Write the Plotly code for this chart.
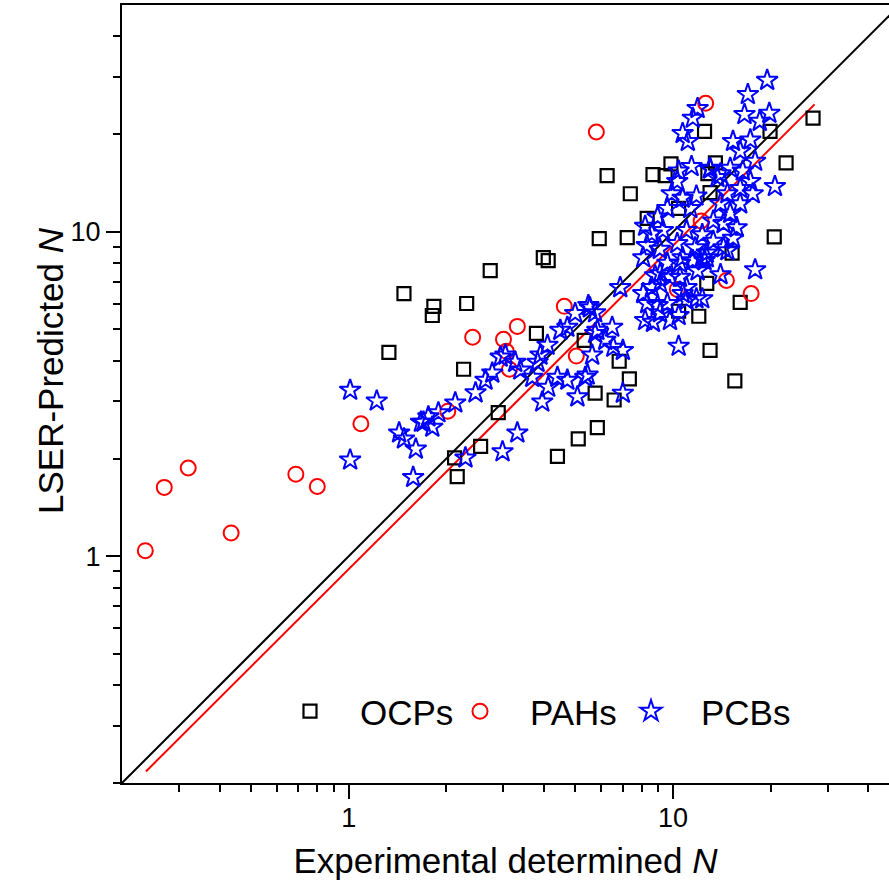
import plotly.graph_objects as go
import math

# OCPs (black squares)
ocp_x = [1.48, 1.33, 1.83, 1.81, 2.31, 2.73, 3.98, 4.12, 5.92, 3.79, 5.32, 2.26, 2.89, 5.75, 5.84,
         5.10, 4.40, 2.55, 2.12, 2.16, 6.82, 7.33, 6.58, 12.7, 12.0, 10.4, 13.0, 15.2, 16.1, 15.5,
         27.0, 22.3, 20.5, 12.5, 19.9, 13.5, 12.8, 13.0, 6.26, 7.38, 8.67, 9.45, 9.85, 7.22, 8.32, 10.4]
ocp_y = [6.45, 4.25, 5.89, 5.52, 6.01, 7.59, 8.32, 8.15, 9.52, 4.86, 4.63, 3.77, 2.77, 3.18, 2.49,
         2.30, 2.03, 2.18, 2.01, 1.76, 3.99, 3.52, 3.03, 6.93, 5.49, 5.69, 4.31, 8.60, 6.06, 3.47,
         22.4, 16.3, 9.65, 20.4, 20.4, 16.3, 15.1, 13.2, 14.9, 13.1, 15.0, 14.9, 16.2, 9.59, 11.0, 11.8]

# PAHs (red circles)
pah_x = [0.236, 0.27, 0.32, 0.434, 0.687, 0.80, 1.09, 2.02, 2.41, 3.00, 3.06, 3.31, 3.13, 4.62,
         5.03, 5.80, 12.6, 12.2, 10.3, 14.6, 17.4]
pah_y = [1.04, 1.63, 1.87, 1.18, 1.79, 1.64, 2.56, 2.80, 4.73, 4.66, 4.28, 5.11, 3.77, 5.89,
         4.14, 20.3, 24.9, 10.8, 6.64, 7.08, 6.45]

# PCBs (blue stars)
pcb_x = [1.01, 1.22, 1.01, 1.43, 1.48, 1.61, 1.58, 1.67,
         1.76, 1.70, 1.81, 1.89, 2.13, 2.46, 2.64, 2.77, 2.94, 3.04, 3.26, 3.38, 3.68, 3.90, 4.10,
         3.82, 4.12, 3.95, 4.40, 4.72, 5.07, 5.36, 5.63, 4.49, 4.72, 4.99, 5.48, 5.75, 5.84, 3.31,
         2.98, 2.29,
         6.87, 8.09, 5.54, 6.49, 5.75, 6.18, 6.54, 7.00, 5.45, 7.00, 8.20, 8.67, 9.78, 10.4, 10.4,
         9.12, 8.96, 9.60, 8.32, 8.09, 8.60, 9.12, 9.78, 10.7, 11.0, 11.8, 11.0, 9.12, 10.5, 11.5,
         12.3, 10.5, 9.60, 8.80, 11.9,
         17.9, 14.0, 12.5, 14.7, 12.3,
         19.5, 17.0, 16.6, 19.8, 18.5, 20.6, 15.3, 17.3, 16.1, 17.9, 15.0, 16.4, 14.0, 13.0, 17.3,
         16.1, 14.7, 17.6, 16.1, 15.0, 14.0, 13.3, 14.3, 15.7, 15.3, 13.3, 14.3, 12.7,
         11.9, 11.5, 10.7, 11.1, 11.4, 10.4, 10.3, 13.0, 13.7, 9.90, 9.60, 10.7, 11.8, 11.3, 8.96,
         8.20, 8.60, 9.30, 8.30, 9.10, 10.3, 11.0, 11.7, 10.7, 12.7, 12.3]
pcb_y = [3.25, 3.01, 1.98, 2.40, 2.30, 2.14, 1.75, 2.59,
         2.69, 2.59, 2.50, 2.77, 2.97, 3.19, 3.49, 3.67, 4.11, 4.17, 3.96, 3.75, 3.56, 4.17, 4.47,
         3.96, 3.32, 2.99, 3.56, 3.49, 3.10, 3.56, 4.17, 4.97, 5.08, 5.60, 5.93, 5.63, 4.97, 2.40,
         2.10, 2.01,
         6.73, 8.32, 5.83, 5.08, 4.86, 4.63, 4.41, 4.31, 3.62, 3.18, 5.33, 5.26, 5.33, 5.52, 4.44,
         5.63, 5.93, 6.01, 6.01, 6.45, 6.73, 6.93, 7.24, 6.45, 6.15, 6.22, 6.73, 7.42, 8.00, 8.15,
         8.32, 7.24, 8.00, 7.32, 7.58,
         7.64, 7.38, 8.15, 8.75, 6.22,
         29.3, 26.5, 23.0, 23.2, 21.9, 13.8, 19.0, 19.2, 17.7, 16.5, 15.7, 15.4, 15.1, 15.7, 14.3,
         13.6, 13.1, 13.1, 12.2, 11.4, 12.2, 10.8, 10.6, 10.3, 9.55, 9.35, 8.93, 8.60,
         24.0, 22.4, 20.1, 19.0, 15.9, 15.4, 14.3, 15.6, 14.7, 13.1, 11.8, 12.7, 12.9, 11.8, 11.1,
         10.4, 9.85, 10.1, 9.07, 8.83, 9.20, 10.1, 8.93, 8.32, 8.32, 9.80]

# reference 1:1 line and fitted line
diag_x = [0.2, 50]
diag_y = [0.2, 50]
fit_x = [0.237, 27.3]
fit_y = [0.217, 24.7]

x_range = [0.2, 46.3]
y_range = [0.2, 50]

FONT = "Arial, Liberation Sans, sans-serif"

fig = go.Figure()
fig.add_trace(go.Scatter(x=diag_x, y=diag_y, mode="lines", line=dict(color="black", width=2),
                         showlegend=False, hoverinfo="skip"))
fig.add_trace(go.Scatter(x=fit_x, y=fit_y, mode="lines", line=dict(color="#ff0000", width=2),
                         showlegend=False, hoverinfo="skip"))
fig.add_trace(go.Scatter(x=ocp_x, y=ocp_y, mode="markers", name="OCPs", legend="legend",
                         marker=dict(symbol="square-open", size=13, color="black",
                                     line=dict(width=2.2, color="black"))))
fig.add_trace(go.Scatter(x=pah_x, y=pah_y, mode="markers", name="PAHs", legend="legend2",
                         marker=dict(symbol="circle-open", size=15, color="#ff0000",
                                     line=dict(width=2, color="#ff0000"))))
fig.add_trace(go.Scatter(x=pcb_x, y=pcb_y, mode="markers", name="PCBs", legend="legend3",
                         marker=dict(symbol="star-open", size=16, color="#0000ff",
                                     line=dict(width=2, color="#0000ff"))))

minor_x = [0.3, 0.4, 0.5, 0.6, 0.7, 0.8, 0.9, 2, 3, 4, 5, 6, 7, 8, 9, 20, 30, 40]
minor_y = [0.2, 0.3, 0.4, 0.5, 0.6, 0.7, 0.8, 0.9, 2, 3, 4, 5, 6, 7, 8, 9, 20, 30, 40]


def leg(left_px):
    return dict(orientation="h", x=(left_px - 122) / 767, xanchor="left", y=0.092, yanchor="middle",
                font=dict(size=35, family=FONT), bgcolor="rgba(0,0,0,0)", itemwidth=90)


fig.update_layout(
    width=889, height=893,
    margin=dict(l=122, r=0, t=5, b=110),
    paper_bgcolor="white", plot_bgcolor="white",
    font=dict(family=FONT, color="black"),
    xaxis=dict(type="log", range=[math.log10(x_range[0]), math.log10(x_range[1])],
               showgrid=False, zeroline=False, showline=True, linecolor="black", linewidth=2,
               mirror=True, ticks="outside", ticklen=14, tickwidth=2, tickcolor="black",
               tickmode="array", tickvals=[1, 10], ticktext=["1", "10"],
               tickfont=dict(size=27, family=FONT), ticklabelstandoff=-4,
               minor=dict(tickmode="array", tickvals=minor_x, ticks="outside", ticklen=7,
                          tickwidth=2, tickcolor="black", showgrid=False),
               title=dict(text="Experimental determined <i>N</i>", font=dict(size=35, family=FONT),
                          standoff=16)),
    yaxis=dict(type="log", range=[math.log10(y_range[0]), math.log10(y_range[1])],
               showgrid=False, zeroline=False, showline=True, linecolor="black", linewidth=2,
               mirror=False, ticks="outside", ticklen=14, tickwidth=2, tickcolor="black",
               tickmode="array", tickvals=[1, 10], ticktext=["1", "10"],
               tickfont=dict(size=27, family=FONT),
               minor=dict(tickmode="array", tickvals=minor_y, ticks="outside", ticklen=7,
                          tickwidth=2, tickcolor="black", showgrid=False)),
    annotations=[dict(text="LSER-Predicted <i>N</i>", textangle=-90, showarrow=False,
                      xref="paper", yref="paper", x=(50 - 122) / 767, y=(783 - 371) / 778,
                      xanchor="center", yanchor="middle", font=dict(size=35, family=FONT))],
    legend=leg(260),
    legend2=leg(430),
    legend3=leg(601),
)

fig.write_html("out.html")
